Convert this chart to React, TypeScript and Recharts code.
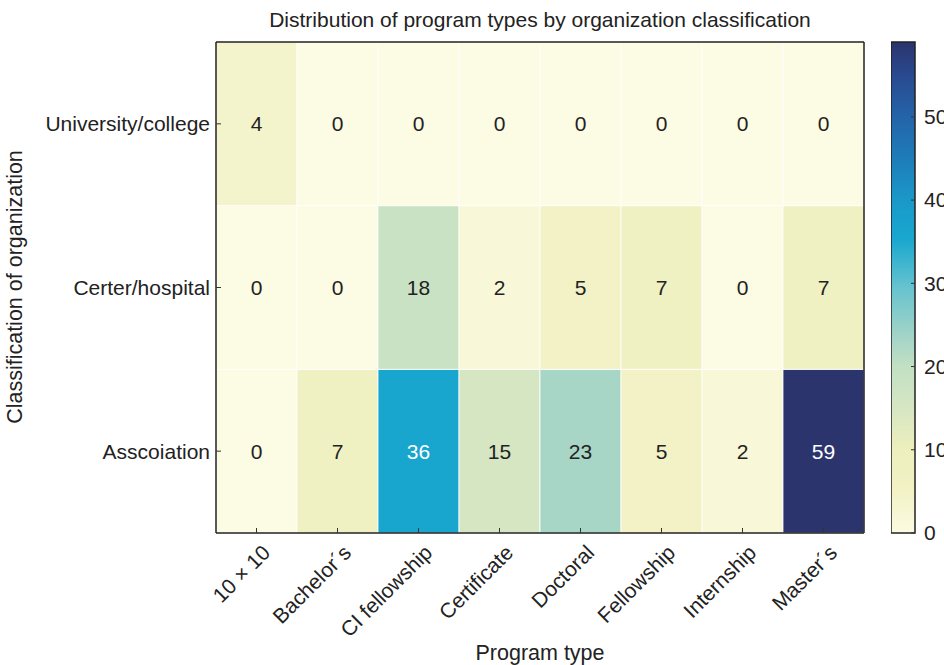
import React from "react";
import {
  BarChart,
  Bar,
  XAxis,
  YAxis,
  Cell,
  LabelList,
} from "recharts";

const programTypes = [
  "10 × 10",
  "Bachelor´s",
  "CI fellowship",
  "Certificate",
  "Doctoral",
  "Fellowship",
  "Internship",
  "Master´s",
];
const organizations = ["University/college", "Certer/hospital", "Asscoiation"];
const universityCounts = [4, 0, 0, 0, 0, 0, 0, 0];
const centerCounts = [0, 0, 18, 2, 5, 7, 0, 7];
const associationCounts = [0, 7, 36, 15, 23, 5, 2, 59];
const colorbarTicks = [0, 10, 20, 30, 40, 50];

const maxCount = Math.max(...universityCounts, ...centerCounts, ...associationCounts);

// YlGnBu-like ramp
const colorStops: [number, string][] = [
  [0, "#fcfbe3"],
  [0.085, "#f2f2c6"],
  [0.17, "#edefbc"],
  [0.255, "#d6e6c3"],
  [0.34, "#c2e0c4"],
  [0.4, "#a3d4c7"],
  [0.5, "#66c3cf"],
  [0.6, "#18a7cf"],
  [0.68, "#1a98c8"],
  [0.76, "#1e7db9"],
  [0.85, "#2463a8"],
  [0.93, "#294a90"],
  [1, "#2b346c"],
];

const hexToRgb = (h: string) => [
  parseInt(h.slice(1, 3), 16),
  parseInt(h.slice(3, 5), 16),
  parseInt(h.slice(5, 7), 16),
];

const colorFor = (v: number) => {
  const t = Math.min(1, Math.max(0, v / maxCount));
  for (let i = 1; i < colorStops.length; i++) {
    const [t1, c1] = colorStops[i - 1];
    const [t2, c2] = colorStops[i];
    if (t <= t2) {
      const f = (t - t1) / (t2 - t1);
      const a = hexToRgb(c1);
      const b = hexToRgb(c2);
      const rgb = a.map((x, k) => Math.round(x + (b[k] - x) * f));
      return `rgb(${rgb[0]},${rgb[1]},${rgb[2]})`;
    }
  }
  return colorStops[colorStops.length - 1][1];
};

const chartData = programTypes.map((program, i) => ({
  program,
  associationRow: 1,
  centerRow: 1,
  universityRow: 1,
  associationCount: associationCounts[i],
  centerCount: centerCounts[i],
  universityCount: universityCounts[i],
}));

const colorbarData = [{ name: "scale", top: maxCount }];

const FONT = '"Liberation Sans", Arial, Helvetica, sans-serif';
const INK = "#222";
const FS = 21;

const rowLabelAt: Record<number, string> = {
  2.5: organizations[0],
  1.5: organizations[1],
  0.5: organizations[2],
};

const ProgramTick = (props: any) => {
  const { x, y, payload } = props;
  const ax = x + 15;
  const ay = y + 21;
  return (
    <g>
      <line x1={x} x2={x} y1={y} y2={y - 5} stroke="#333" strokeWidth={1} />
      <text
        x={ax}
        y={ay}
        transform={`rotate(-45 ${ax} ${ay})`}
        textAnchor="end"
        fontSize={FS}
        fontFamily={FONT}
        fill={INK}
      >
        {payload.value}
      </text>
    </g>
  );
};

const OrgTick = (props: any) => {
  const { x, y, payload } = props;
  return (
    <g>
      <line x1={x} x2={x + 5} y1={y} y2={y} stroke="#333" strokeWidth={1} />
      <text
        x={x - 6}
        y={y}
        dy="0.35em"
        textAnchor="end"
        fontSize={FS}
        fontFamily={FONT}
        fill={INK}
      >
        {rowLabelAt[payload.value]}
      </text>
    </g>
  );
};

const ColorbarTick = (props: any) => {
  const { x, y, payload } = props;
  return (
    <g>
      <line x1={x - 4} x2={x} y1={y} y2={y} stroke="#333" strokeWidth={1} />
      <text
        x={x + 9}
        y={y}
        dy="0.35em"
        textAnchor="start"
        fontSize={FS}
        fontFamily={FONT}
        fill={INK}
      >
        {payload.value}
      </text>
    </g>
  );
};

const renderCellLabel = (props: any) => {
  const { x, y, width, height, value } = props;
  return (
    <text
      x={x + width / 2}
      y={y + height / 2}
      dy="0.35em"
      textAnchor="middle"
      fontSize={FS}
      fontFamily={FONT}
      fill={value > 30 ? "#ffffff" : INK}
    >
      {value}
    </text>
  );
};

const rows = [
  { key: "associationRow", countKey: "associationCount", counts: associationCounts },
  { key: "centerRow", countKey: "centerCount", counts: centerCounts },
  { key: "universityRow", countKey: "universityCount", counts: universityCounts },
];

export default function App() {
  return (
    <div
      style={{
        position: "absolute",
        left: 0,
        top: 0,
        width: 944,
        height: 665,
        overflow: "hidden",
        background: "#fff",
        fontFamily: FONT,
        color: INK,
      }}
    >
      <svg width={0} height={0} style={{ position: "absolute" }}>
        <defs>
          <linearGradient id="ylgnbu" x1="0" y1="1" x2="0" y2="0">
            {colorStops.map(([t, c]) => (
              <stop key={t} offset={`${t * 100}%`} stopColor={c} />
            ))}
          </linearGradient>
        </defs>
      </svg>

      <div
        style={{
          position: "absolute",
          top: 9,
          left: 216,
          width: 648,
          textAlign: "center",
          fontSize: FS,
          lineHeight: 1,
        }}
      >
        Distribution of program types by organization classification
      </div>

      <div
        style={{
          position: "absolute",
          left: 216,
          width: 648,
          top: 643,
          textAlign: "center",
          fontSize: 21.5,
          lineHeight: 1,
        }}
      >
        Program type
      </div>

      <div
        style={{
          position: "absolute",
          left: 16,
          top: 287,
          transform: "translate(-50%, -50%) rotate(-90deg)",
          whiteSpace: "nowrap",
          fontSize: 21.5,
          lineHeight: 1,
        }}
      >
        Classification of organization
      </div>

      <div style={{ position: "absolute", left: 0, top: 0 }}>
        <BarChart
          width={944}
          height={665}
          data={chartData}
          margin={{ top: 41, right: 79, bottom: 0, left: 0 }}
          barCategoryGap={0}
          barGap={0}
        >
          <XAxis
            dataKey="program"
            interval={0}
            height={132}
            tickSize={0}
            tickMargin={0}
            tick={<ProgramTick />}
            axisLine={{ stroke: "#222", strokeWidth: 1.5 }}
          />
          <XAxis
            xAxisId="top"
            dataKey="program"
            orientation="top"
            height={1}
            tick={false}
            tickLine={false}
            axisLine={{ stroke: "#222", strokeWidth: 1.5 }}
          />
          <YAxis
            type="number"
            domain={[0, 3]}
            ticks={[0.5, 1.5, 2.5]}
            width={216}
            tickSize={0}
            tickMargin={0}
            tick={<OrgTick />}
            axisLine={{ stroke: "#222", strokeWidth: 1.5 }}
          />
          <YAxis
            yAxisId="right"
            orientation="right"
            type="number"
            domain={[0, 3]}
            width={1}
            tick={false}
            tickLine={false}
            axisLine={{ stroke: "#222", strokeWidth: 1.5 }}
          />
          {rows.map((row) => (
            <Bar
              key={row.key}
              dataKey={row.key}
              stackId="grid"
              stroke="#ffffff"
              strokeWidth={1}
              strokeOpacity={0.8}
              isAnimationActive={false}
            >
              {row.counts.map((c, i) => (
                <Cell key={i} fill={colorFor(c)} />
              ))}
              <LabelList dataKey={row.countKey} content={renderCellLabel} />
            </Bar>
          ))}
        </BarChart>
      </div>

      <div style={{ position: "absolute", left: 891, top: 0 }}>
        <BarChart
          width={120}
          height={665}
          data={colorbarData}
          margin={{ top: 42, right: 36, bottom: 132, left: 0 }}
          barCategoryGap={0}
        >
          <XAxis dataKey="name" hide />
          <YAxis
            orientation="right"
            type="number"
            domain={[0, maxCount]}
            ticks={colorbarTicks}
            width={60}
            tickSize={0}
            tickMargin={0}
            tick={<ColorbarTick />}
            axisLine={false}
          />
          <Bar
            dataKey="top"
            fill="url(#ylgnbu)"
            stroke="#222"
            strokeWidth={1.5}
            isAnimationActive={false}
          />
        </BarChart>
      </div>
    </div>
  );
}
